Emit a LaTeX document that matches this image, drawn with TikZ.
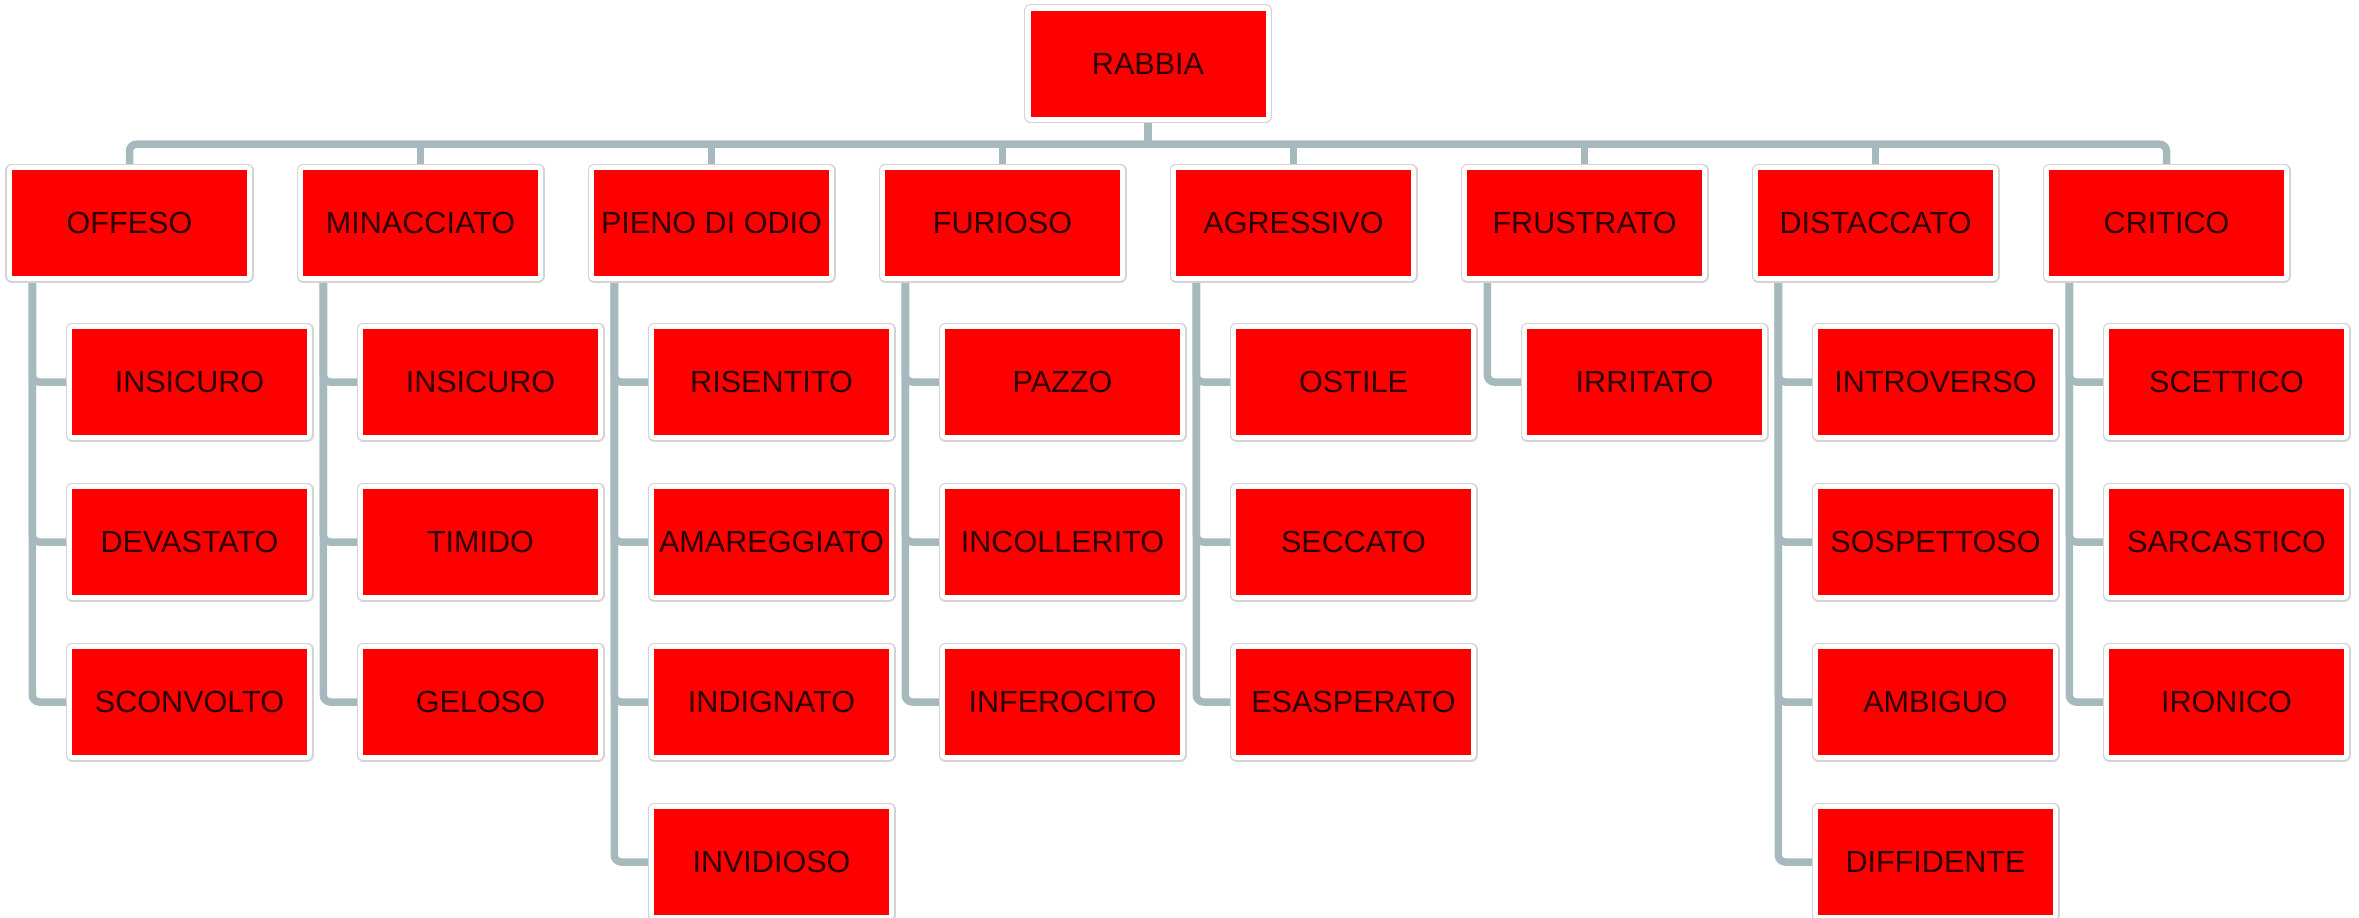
\documentclass[tikz,border=0pt]{standalone}
\usepackage{fontspec}
\setmainfont{Liberation Sans}
\usetikzlibrary{backgrounds}
\definecolor{linegray}{RGB}{166,186,190}
\definecolor{rimgray}{RGB}{212,212,212}
\definecolor{emotext}{RGB}{45,0,0}

\begin{document}
\begin{tikzpicture}[
   emo/.style={rectangle,fill=red,minimum width=2.35cm,minimum height=1.06cm,inner sep=0pt,
      text=emotext,font=\fontsize{8.7}{10}\selectfont,
      preaction={draw=rimgray,line width=.13cm,line join=round},
      preaction={draw=white,line width=.105cm,line join=round}},
   conn/.style={draw=linegray,line width=.075cm,rounded corners=2pt}]
   \useasboundingbox (0,0) rectangle (23.59,-9.17);

   \node[emo] (rabbia) at (11.48,-0.635) {RABBIA};

   \node[emo] (offeso) at (1.295,-2.23) {OFFESO};
   \node[emo] (minacciato) at (4.205,-2.23) {MINACCIATO};
   \node[emo] (pieno) at (7.115,-2.23) {PIENO DI ODIO};
   \node[emo] (furioso) at (10.025,-2.23) {FURIOSO};
   \node[emo] (agressivo) at (12.935,-2.23) {AGRESSIVO};
   \node[emo] (frustrato) at (15.845,-2.23) {FRUSTRATO};
   \node[emo] (distaccato) at (18.755,-2.23) {DISTACCATO};
   \node[emo] (critico) at (21.665,-2.23) {CRITICO};

   \node[emo] (insicuroA) at (1.895,-3.82) {INSICURO};
   \node[emo] (devastato) at (1.895,-5.42) {DEVASTATO};
   \node[emo] (sconvolto) at (1.895,-7.02) {SCONVOLTO};

   \node[emo] (insicuroB) at (4.805,-3.82) {INSICURO};
   \node[emo] (timido) at (4.805,-5.42) {TIMIDO};
   \node[emo] (geloso) at (4.805,-7.02) {GELOSO};

   \node[emo] (risentito) at (7.715,-3.82) {RISENTITO};
   \node[emo] (amareggiato) at (7.715,-5.42) {AMAREGGIATO};
   \node[emo] (indignato) at (7.715,-7.02) {INDIGNATO};
   \node[emo] (invidioso) at (7.715,-8.62) {INVIDIOSO};

   \node[emo] (pazzo) at (10.625,-3.82) {PAZZO};
   \node[emo] (incollerito) at (10.625,-5.42) {INCOLLERITO};
   \node[emo] (inferocito) at (10.625,-7.02) {INFEROCITO};

   \node[emo] (ostile) at (13.535,-3.82) {OSTILE};
   \node[emo] (seccato) at (13.535,-5.42) {SECCATO};
   \node[emo] (esasperato) at (13.535,-7.02) {ESASPERATO};

   \node[emo] (irritato) at (16.445,-3.82) {IRRITATO};

   \node[emo] (introverso) at (19.355,-3.82) {INTROVERSO};
   \node[emo] (sospettoso) at (19.355,-5.42) {SOSPETTOSO};
   \node[emo] (ambiguo) at (19.355,-7.02) {AMBIGUO};
   \node[emo] (diffidente) at (19.355,-8.62) {DIFFIDENTE};

   \node[emo] (scettico) at (22.265,-3.82) {SCETTICO};
   \node[emo] (sarcastico) at (22.265,-5.42) {SARCASTICO};
   \node[emo] (ironico) at (22.265,-7.02) {IRONICO};

   \begin{scope}[on background layer]
   \coordinate (bus) at ([yshift=-.27cm]rabbia.south);
   \draw[conn] (rabbia.south) -- (bus);
   \draw[conn] (offeso.north) |- (bus) -| (critico.north);
   \foreach \n in {minacciato,pieno,furioso,agressivo,frustrato,distaccato}
      \draw[conn] (\n.north) -- (\n.north |- bus);

   % rami verso le emozioni secondarie
   \foreach \p/\c in {offeso/insicuroA,offeso/devastato,offeso/sconvolto,
         minacciato/insicuroB,minacciato/timido,minacciato/geloso,
         pieno/risentito,pieno/amareggiato,pieno/indignato,pieno/invidioso,
         furioso/pazzo,furioso/incollerito,furioso/inferocito,
         agressivo/ostile,agressivo/seccato,agressivo/esasperato,
         frustrato/irritato,
         distaccato/introverso,distaccato/sospettoso,distaccato/ambiguo,distaccato/diffidente,
         critico/scettico,critico/sarcastico,critico/ironico}
      \draw[conn] ([xshift=.21cm]\p.south west) |- (\c.west);
   \end{scope}
\end{tikzpicture}
\end{document}
